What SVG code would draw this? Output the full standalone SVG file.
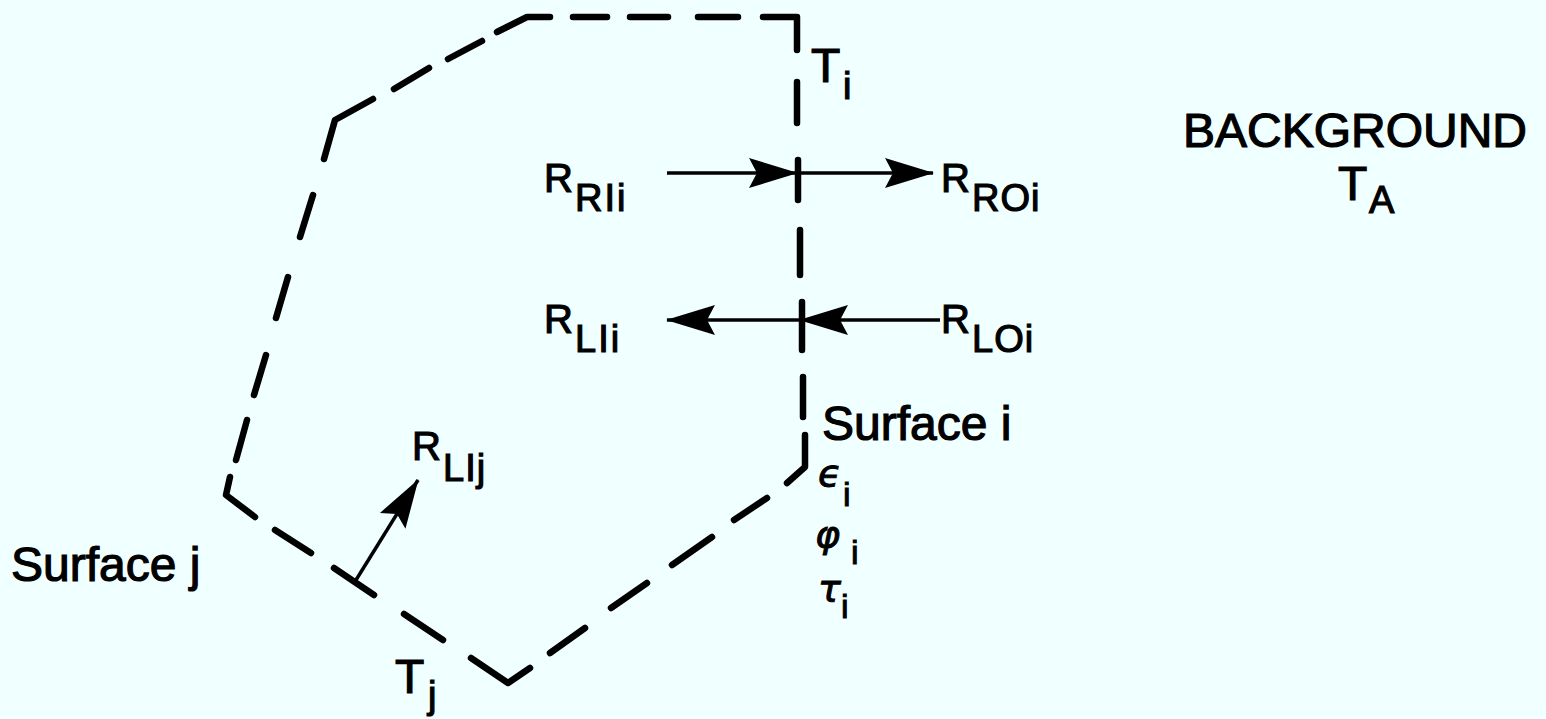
<svg xmlns="http://www.w3.org/2000/svg" width="1546" height="719" viewBox="0 0 1546 719">
<style>
.bg{fill:#f0ffff}
.dash{fill:none;stroke:#000;stroke-width:6.5;stroke-linecap:round;stroke-linejoin:round}
.arr{fill:none;stroke:#000;stroke-width:3.5}
.t{font-family:"Liberation Sans",Arial,Helvetica,sans-serif;fill:#000;stroke:#000;stroke-width:1.2}
.big{font-size:48px}
.r{font-size:40px}
.sub{font-size:38px}
.gk{font-family:"DejaVu Sans","Liberation Sans",sans-serif;font-style:italic;font-size:38px;fill:#000;stroke:#000;stroke-width:1}
.gs{font-family:"Liberation Sans",Arial,sans-serif;font-size:34px;fill:#000;stroke:#000;stroke-width:1}
</style>
<defs>
<marker id="ah" markerUnits="userSpaceOnUse" viewBox="-52 -18 56 36" refX="0" refY="0" markerWidth="56" markerHeight="36" orient="auto">
<path d="M1,0 L-48,-15 L-40,0 L-48,15 Z" fill="#000"/>
</marker>
</defs>
<rect class="bg" x="0" y="0" width="1546" height="719"/>
<g id="enclosure">
<path class="dash" d="M497,32 L527,17 L550,17 M573,17 L607,17 M630,17 L668,17 M698,17 L738,17 M763,17 L797,17 L797,50 M797,82 L797,123 M798,160 L798,200 M800,230 L800,275 M802,302 L802,350 M803,377 L803,417 M805,435 L805,467 L787,483 M767,498 L734,520 M712,537 L672,565 M647,583 L611,608 M585,628 L550,653 M530,668 L508,683 L471,658 M443,640 L404,614 M374,595 L334,568 M311,553 L275,530 M255,517 L226,495 L230,477 M236,460 L247,420 M254,395 L266,355 M276,318 L288,277 M300,237 L313,195 M324,159 L335,120 L373,99 M394,89 L429,68 M448,59 L482,41"/>
</g>
<g id="connectors">
<line class="arr" x1="667" y1="173" x2="797" y2="173" marker-end="url(#ah)"/>
<line class="arr" x1="797" y1="173" x2="933" y2="173" marker-end="url(#ah)"/>
<line class="arr" x1="800" y1="320" x2="667" y2="320" marker-end="url(#ah)"/>
<line class="arr" x1="940" y1="320" x2="800" y2="320" marker-end="url(#ah)"/>
<line class="arr" x1="356" y1="580" x2="418" y2="480" marker-end="url(#ah)"/>
</g>
<g id="label-Ti"><text class="t big" x="811" y="82">T</text><text class="t sub" x="843" y="99">i</text></g>
<g id="label-RRIi"><text class="t r" x="544" y="192">R</text><text class="t sub" x="575" y="211" letter-spacing="2">RIi</text></g>
<g id="label-RROi"><text class="t r" x="941" y="192">R</text><text class="t sub" x="972" y="211" letter-spacing="1">ROi</text></g>
<g id="label-RLIi"><text class="t r" x="544" y="333">R</text><text class="t sub" x="575" y="352" letter-spacing="2">LIi</text></g>
<g id="label-RLOi"><text class="t r" x="941" y="333">R</text><text class="t sub" x="972" y="352" letter-spacing="1">LOi</text></g>
<g id="label-surface-i"><text class="t big" x="822" y="440">Surface i</text></g>
<g id="label-props">
<text class="gk" x="818" y="486">ϵ</text><text class="gs" x="843" y="506">i</text>
<text class="gk" x="815" y="547">φ</text><text class="gs" x="851" y="564">i</text>
<text class="gk" x="818" y="601">τ</text><text class="gs" x="841" y="618">i</text>
</g>
<g id="label-RLIj"><text class="t r" x="412" y="460">R</text><text class="t sub" x="443" y="481" letter-spacing="1">LIj</text></g>
<g id="label-surface-j"><text class="t big" x="11" y="581">Surface j</text></g>
<g id="label-Tj"><text class="t big" x="395" y="693">T</text><text class="t sub" x="428" y="708">j</text></g>
<g id="label-background"><text class="t big" x="1355" y="147" text-anchor="middle">BACKGROUND</text><text class="t big" x="1338" y="200">T</text><text class="t sub" x="1369" y="213">A</text></g>
</svg>
